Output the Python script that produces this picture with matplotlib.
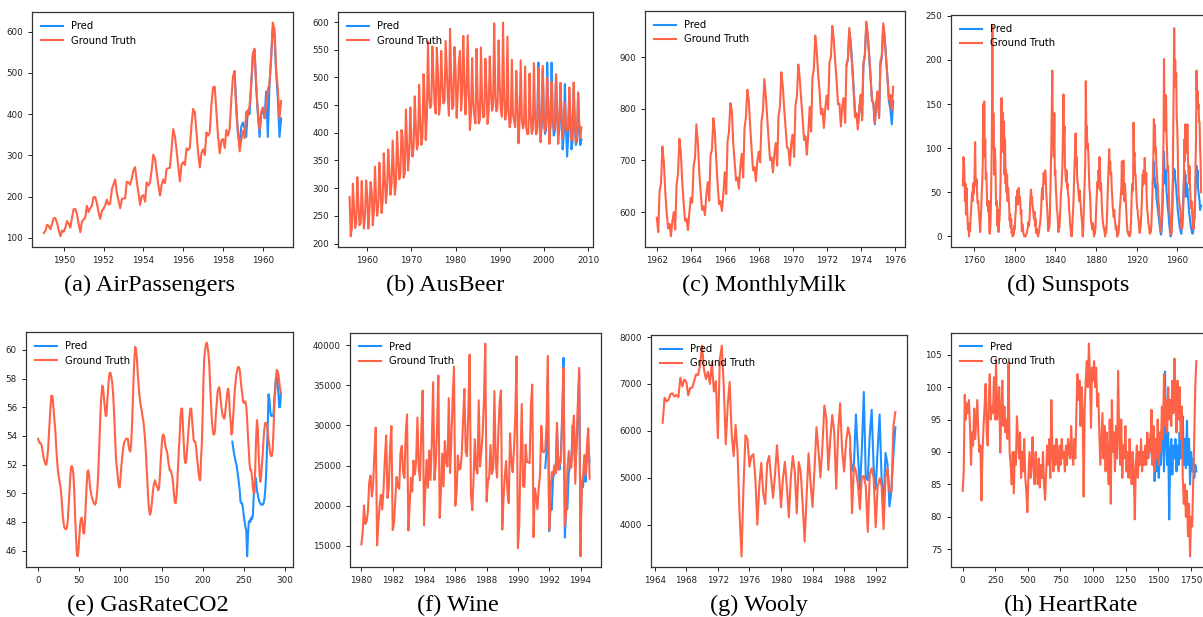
import numpy as np
import pandas as pd
import matplotlib
matplotlib.use("Agg")
import matplotlib.pyplot as plt
import matplotlib.dates as mdates
from matplotlib.ticker import MultipleLocator

# ---------------- DATA ----------------
air_truth = [112,118,132,129,121,135,148,148,136,119,104,118,
             115,126,141,135,125,149,170,170,158,133,114,140,
             145,150,178,163,172,178,199,199,184,162,146,166,
             171,180,193,181,183,218,230,242,209,191,172,194,
             196,196,236,235,229,243,264,272,237,211,180,201,
             204,188,235,227,234,264,302,293,259,229,203,229,
             242,233,267,269,270,315,364,347,312,274,237,278,
             284,277,317,313,318,374,413,405,355,306,271,306,
             315,301,356,348,355,422,465,467,404,347,305,336,
             340,318,362,348,363,435,491,505,404,359,310,337,
             360,342,406,396,420,472,548,559,463,407,362,405,
             417,391,419,461,472,535,622,606,508,461,390,432]
air_pred = [500,420,350,335,370,
            380,365,345,410,400,470,540,555,470,400,345,400,
            410,390,455,345,470,540,610,590,500,440,345,390]

beer_truth = [284,213,227,308,262,228,236,320,272,233,237,313,261,227,250,314,
              286,227,260,311,295,233,257,339,279,250,270,346,294,255,278,363,
              313,273,300,370,331,288,306,386,335,288,308,402,353,316,325,405,
              393,319,327,442,383,332,361,446,387,357,374,466,410,370,379,487,
              419,378,393,506,458,387,427,565,465,445,450,556,500,452,435,554,
              510,433,453,548,486,453,457,566,515,464,431,588,503,443,448,555,
              513,427,473,526,548,440,469,575,493,433,480,576,475,405,435,535,
              453,430,417,552,464,417,423,554,459,428,429,534,481,416,440,538,
              474,440,447,598,467,439,446,567,485,441,429,599,464,424,436,574,
              443,410,420,532,433,421,410,512,449,381,423,531,426,408,416,520,
              409,398,398,507,432,398,406,526,428,397,403,517,435,383,424,521,
              421,402,414,500,451,380,416,492,428,408,406,506,435,380,421,490,
              435,390,412,454,416,403,408,482,438,386,405,491,427,383,394,473,
              420,390,410]
beer_pred = [400,410,527,
             440,395,410,515, 430,398,405,527, 440,400,410,527,
             425,395,405,505, 430,395,405,490, 425,370,395,488,
             410,357,390,470, 420,370,385,475, 410,378,385,470,
             405,378,388]

milk_truth = [589,561,640,656,727,697,640,599,568,577,553,582,
              600,566,653,673,742,716,660,617,583,587,565,598,
              628,618,688,705,770,736,678,639,604,611,594,634,
              658,622,709,722,782,756,702,653,615,621,602,635,
              677,635,736,755,811,798,735,697,661,667,645,688,
              713,667,762,784,837,817,767,722,681,687,660,698,
              717,696,775,796,858,826,783,740,701,706,677,711,
              734,690,785,805,871,845,801,764,725,723,690,734,
              750,707,807,824,886,859,819,783,740,747,711,751,
              804,756,860,878,942,913,869,834,790,800,763,800,
              826,799,890,900,961,935,894,855,809,810,766,805,
              821,773,883,898,957,924,881,837,784,791,760,802,
              828,778,889,902,969,947,908,867,815,812,773,813,
              834,782,892,903,966,937,896,858,817,827,797,843]
milk_pred = [885,895,950,930,890,845,795,790,770,795,
             825,785,885,905,960,945,905,860,820,810,770,805,
             830,785,885,900,960,940,900,860,815,800,770,815]

# semi-annual readings, 1749-1983
sun_truth = [58,90, 85,72, 40,60, 25,55, 35,22, 8,15, 0,14, 6,20, 28,38, 50,40,
             60,48, 55,72, 107,68, 58,65, 48,38, 40,30, 24,15, 5,18, 30,48, 60,80,
             150,95, 153,90, 110,65, 72,55, 35,40, 28,40, 5,3, 10,30, 75,110, 239,100,
             140,105, 70,100, 85,45, 35,40, 12,30, 5,15, 18,35, 60,110, 157,105, 130,140,
             95,130, 70,110, 60,75, 50,70, 40,55, 45,35, 18,25, 10,20, 4,8, 0,6,
             2,12, 8,20, 28,45, 38,52, 36,50, 55,40, 45,38, 25,30, 6,14, 10,4,
             2,0, 0,0, 1,3, 4,8, 10,16, 12,18, 30,45, 53,40, 45,35, 32,25,
             20,28, 12,20, 4,9, 3,5, 0,3, 6,12, 14,22, 30,45, 55,42, 58,72,
             65,60, 75,68, 50,42, 30,22, 6,12, 10,18, 45,70, 100,140, 188,120, 110,90,
             140,70, 75,55, 45,30, 28,18, 5,12, 10,20, 35,48, 55,68, 80,120, 161,110,
             125,80, 70,62, 75,55, 60,48, 45,32, 25,15, 8,4, 0,8, 18,30, 45,65,
             85,100, 117,80, 90,65, 62,55, 48,40, 52,42, 35,25, 20,12, 0,10, 30,48,
             65,85, 176,120, 125,100, 105,95, 75,55, 50,38, 20,14, 12,8, 15,10, 0,5,
             3,10, 25,40, 50,62, 55,75, 65,90, 75,52, 60,45, 30,20, 15,10, 8,5,
             0,10, 4,12, 30,45, 65,85, 99,75, 85,70, 72,55, 45,35, 28,22, 30,20,
             15,8, 12,6, 0,4, 3,8, 18,32, 38,48, 55,85, 60,48, 86,50, 40,60,
             48,38, 22,14, 6,4, 2,5, 0,2, 5,15, 40,55, 60,52, 129,90, 95,70,
             70,55, 42,32, 30,22, 18,10, 4,8, 12,22, 35,55, 70,58, 75,62, 89,70,
             60,72, 40,30, 25,16, 12,9, 3,8, 5,12, 28,45, 70,90, 133,105, 127,95,
             100,80, 70,62, 55,40, 35,25, 18,12, 5,15, 22,45, 80,110, 201,140, 120,150,
             160,115, 95,75, 80,60, 35,28, 18,10, 2,6, 20,55, 110,170, 236,180, 200,170,
             185,135, 125,100, 60,45, 40,35, 30,25, 12,8, 10,20, 35,60, 110,85, 127,95,
             120,95, 127,90, 75,60, 80,60, 45,32, 40,30, 18,12, 8,16, 20,35, 80,110,
             188,150, 165,145, 150,130, 130,100, 85,50]
sun_pred = [60,75, 85,70, 65,55, 60,45, 40,35, 30,25, 20,15, 10,5, 2,5, 15,35,
            55,75, 96,70, 60,75, 65,50, 45,35, 30,25, 15,10, 5,0, 2,10, 25,50,
            65,77, 70,75, 65,60, 55,45, 40,30, 25,20, 15,10, 8,5, 3,8, 15,30,
            45,60, 75,55, 70,45, 60,50, 55,45, 40,30, 25,20, 15,10, 8,5, 3,5,
            8,15, 25,40, 55,70, 80,65, 75,55, 50,45, 40,30, 35,35]

gas_truth = [53.8,53.6,53.5,53.5,53.4,53.1,52.7,52.4,52.2,52.0,
             52.0,52.4,53.0,54.0,54.9,56.0,56.8,56.8,56.4,55.7,
             55.0,54.3,53.2,52.3,51.6,51.2,50.8,50.5,50.0,49.2,
             48.4,47.9,47.6,47.5,47.5,47.6,48.1,49.0,50.0,51.1,
             51.8,51.9,51.7,51.2,50.0,48.3,47.0,45.8,45.6,46.0,
             46.9,47.8,48.2,48.3,47.9,47.2,47.2,48.1,49.4,50.6,
             51.5,51.6,51.2,50.5,50.1,49.8,49.6,49.4,49.3,49.2,
             49.3,49.7,50.3,51.3,52.8,54.4,56.0,56.9,57.5,57.3,
             56.6,56.0,55.4,55.4,56.4,57.2,58.0,58.4,58.4,58.1,
             57.7,57.0,56.0,54.7,53.2,52.1,51.6,51.0,50.5,50.4,
             51.0,51.8,52.4,53.0,53.4,53.6,53.7,53.8,53.8,53.8,
             53.3,53.0,52.9,53.4,54.6,56.4,58.0,59.4,60.2,60.0,
             59.4,58.4,57.6,56.9,56.4,56.0,55.7,55.3,55.0,54.4,
             53.7,52.8,51.6,50.6,49.4,48.8,48.5,48.7,49.2,49.8,
             50.4,50.7,50.9,50.7,50.5,50.4,50.2,50.4,51.2,52.3,
             53.2,53.9,54.1,54.0,53.6,53.2,53.0,52.8,52.3,51.9,
             51.6,51.6,51.4,51.2,50.7,50.0,49.4,49.3,49.7,50.6,
             51.8,53.0,54.0,55.3,55.9,55.9,54.6,53.5,52.4,52.1,
             52.3,53.0,53.8,54.6,55.4,55.9,55.9,55.2,54.4,53.7,
             53.6,53.6,53.2,52.5,52.0,51.4,51.0,50.9,52.4,53.5,
             55.6,58.0,59.5,60.0,60.4,60.5,60.2,59.7,59.0,57.6,
             56.4,55.2,54.5,54.1,54.1,54.4,55.5,56.2,57.0,57.3,
             57.4,57.0,56.4,55.9,55.5,55.3,55.2,55.4,56.0,56.5,
             57.1,57.3,56.8,55.6,55.0,54.1,54.3,55.3,56.4,57.2,
             57.8,58.3,58.6,58.8,58.8,58.6,58.0,57.4,57.0,56.4,
             56.3,56.4,56.4,56.0,55.2,54.0,53.0,52.0,51.6,51.6,
             51.1,50.4,50.0,50.0,52.0,54.0,55.1,54.5,52.8,51.4,
             50.8,51.2,52.0,52.8,53.8,54.5,54.9,54.9,54.8,54.4,
             53.7,53.3,52.8,52.6,52.6,53.0,54.3,56.0,57.0,58.0,
             58.6,58.5,58.3,57.8,57.3,57.0]
gas_pred = [53.6,53.2,52.8,52.5,52.2,52.0,51.6,51.2,50.7,50.2,
            49.4,49.3,49.3,48.9,48.4,48.0,47.6,47.4,45.6,47.0,
            48.0,48.1,48.0,48.3,48.2,48.5,49.8,50.6,51.1,50.8,
            50.2,49.9,49.6,49.4,49.3,49.2,49.2,49.2,49.3,49.6,
            50.2,51.2,52.8,54.6,56.9,56.6,55.8,55.4,55.4,55.4,
            55.5,56.5,57.4,58.0,58.1,57.6,57.0,56.0,56.0,57.0]

wine_truth = [15136,16733,20016,17708,18019,19227,22893,23739,21133,22591,26786,29740,
              15028,17977,20008,21354,19498,22125,25817,28779,20960,22254,27392,29945,
              16933,17892,20533,23569,22417,22084,26580,27454,24081,23451,28991,31386,
              16896,20045,23471,21747,25621,23859,25500,30998,24475,23145,29701,34365,
              17556,22077,25702,22214,26886,23191,27831,35406,23195,25110,30009,36242,
              18450,21845,26488,22394,28057,25451,24872,33424,24052,28449,33533,37351,
              19969,21701,26249,24493,24603,26485,30723,34569,26689,26157,32064,38870,
              21337,19419,23166,28286,24570,24001,33151,24878,26804,28967,33311,40226,
              20504,23060,23562,27562,23940,24584,34303,25517,23494,29095,32903,34379,
              16991,21109,23740,25552,21752,20294,29009,25500,24166,26960,31222,38641,
              14672,17543,25453,32683,22449,22316,27595,25451,25421,25288,32568,35110,
              16052,22146,21198,19543,22084,23816,29961,26773,26635,26972,30207,38687,
              16974,21697,24179,23757,25013,24019,30345,24488,25156,25650,30923,37240,
              17466,19463,24352,26805,25236,24735,29356,31234,22724,28496,32857,37198,
              13652,22784,23565,26323,23779,27549,29660,23356]
wine_pred = [24700,26750,36000,
             16800,19700,19500,23500,24000,24500,29500,25000,24500,26500,31500,38460,
             16000,19500,19600,24000,25000,25500,30000,28000,24500,27500,31000,36500,
             16500,23000,22300,25000,23000,26500,27500,25500]

wooly_truth = [6172,6709,6633,6660, 6786,6800,6730,6765, 6720,7133,6946,7095,
               7047,6757,6915,6921, 7064,7206,7190,7402, 7819,7300,7105,7259,
               7001,7475,6840,7061, 5845,7529,7819,6943, 5714,6556,7045,5947,
               5463,6127,5540,4235, 3324,4793,5906,5834, 5240,5458,5505,5002,
               3999,4826,5318,4681, 4442,5305,5466,4995, 4573,5081,5696,5079,
               4373,4986,5341,4800, 4161,5007,5464,5127, 4240,5338,5129,4437,
               3642,4602,5524,4895, 4380,5186,6080,5588, 5009,5663,6540,6262,
               5169,5819,6339,5981, 4766,5976,6590,5590, 5135,5762,6077,5882,
               4247,5264,5146,4868, 4329,5029,5036,4821, 3848,5067,5201,4992,
               3946,4802,4988,4834, 3905,5016,5199,4699, 4715,6100,6400]
wooly_pred = [5600,
              5150,5300,6350,5500, 4750,5600,6830,5000, 4950,5900,6450,5200,
              4750,5600,6350,5000, 4400,5530,5300,4390, 4750,5500,6080]

# heart rate, one reading every 8 samples (0..1792)
heart_truth = [84,87,98.8,95,97.5,96,98,94,88,93,91,96.7,92,95,98,93,90,91,82.5,90,94,97,100.5,93,91,
               98,102,95,97,96,101.5,95,104.3,95,97,100,89.9,96,101,94,97,93,95,92,103.8,90,88,85,90,83.6,
               90,88,95.5,92,89,93,86,90,87,92,86,84,80.7,86,90,86,88,92.3,87,85,90,87,85,89,84.5,
               88,86,90,85,82.6,87,91,88,92,86,98,90,87,91,88,92,89,87,91,88,92,89,90,87,91,
               88,92,90,89,94,90,88,92,89,96,102,98,101,94,100,96,83.1,97,101,104,100,106.7,102,93.7,103,
               101,104,100,103,97,99,93,88,92,96,89,94,87,93,90,85,95,82,98,90,93,87,94,89,102.5,
               93,88,95,86,91,89,94,87,90,86,92,88,85,90,87,79.6,88,91,86,90,88,92,87,90,88,
               91,88,93,89,92,90,96.5,88,94,87,92,89,95,88,93,90,97,92,102,94,98,93,100,95,98,
               94,101,96,104.4,98,93,101,95,100,92,97,86,82,85,80,84,77,82,73.9,80,78.5,85,92,100,104]
heart_pred = [92.7,90,88,91,85.5,89,87,91,86,90,88,92,95,87,102.4,92,88,93,79.6,90,
              92,86.5,91,89,92,87,91,88,93,89,91,95.5,88,92,87.5,94.8,88,92,85,90,
              87,89,86,88,87]

# ---------------- STYLE ----------------
W, H = 1203, 617
fig = plt.figure(figsize=(W / 100, H / 100), dpi=100)
BLUE = "#1E90FF"
RED = "#FF6347"
SPINE = "#333333"

def add_ax(l, t, r, b):
    return fig.add_axes([l / W, 1 - b / H, (r - l) / W, (b - t) / H])

def style(ax):
    for s in ax.spines.values():
        s.set_color(SPINE)
        s.set_linewidth(0.9)
    ax.tick_params(labelsize=6.3, colors="#222222", length=3, width=0.7)
    ax.legend(loc="upper left", frameon=False, fontsize=7.2, handlelength=2.2,
              labelspacing=0.45, borderaxespad=0.5)

def draw(ax, x, truth, pred):
    xp = x[-len(pred):]
    ax.plot(xp, pred, color=BLUE, lw=1.5, label="Pred")
    ax.plot(x, truth, color=RED, lw=1.5, label="Ground Truth")

def date_axis(ax, years):
    ax.xaxis.set_major_locator(mdates.YearLocator(years))
    ax.xaxis.set_major_formatter(mdates.DateFormatter("%Y"))

# (a) AirPassengers
ax = add_ax(32, 12, 293, 247)
x = pd.date_range("1949-01-01", periods=len(air_truth), freq="MS")
draw(ax, x, air_truth, air_pred)
date_axis(ax, 2); ax.yaxis.set_major_locator(MultipleLocator(100)); style(ax)

# (b) AusBeer
ax = add_ax(338, 12, 593, 247)
x = pd.date_range("1956-01-01", periods=len(beer_truth), freq="QS")
draw(ax, x, beer_truth, beer_pred)
date_axis(ax, 10); ax.yaxis.set_major_locator(MultipleLocator(50)); style(ax)

# (c) MonthlyMilk
ax = add_ax(645, 11, 905, 247)
x = pd.date_range("1962-01-01", periods=len(milk_truth), freq="MS")
draw(ax, x, milk_truth, milk_pred)
date_axis(ax, 2); ax.yaxis.set_major_locator(MultipleLocator(100)); style(ax)

# (d) Sunspots
ax = add_ax(951, 15, 1213, 247)
x = pd.date_range("1749-01-01", periods=len(sun_truth), freq="6MS")
draw(ax, x, sun_truth, sun_pred)
date_axis(ax, 40); ax.yaxis.set_major_locator(MultipleLocator(50)); style(ax)

# (e) GasRateCO2
ax = add_ax(26, 332, 293, 567)
x = np.arange(len(gas_truth))
draw(ax, x, gas_truth, gas_pred)
ax.xaxis.set_major_locator(MultipleLocator(50)); ax.yaxis.set_major_locator(MultipleLocator(2)); style(ax)

# (f) Wine
ax = add_ax(350, 333, 601, 567)
x = pd.date_range("1980-01-01", periods=len(wine_truth), freq="MS")
draw(ax, x, wine_truth, wine_pred)
date_axis(ax, 2); ax.yaxis.set_major_locator(MultipleLocator(5000)); style(ax)

# (g) Wooly
ax = add_ax(651, 335, 907, 567)
x = pd.date_range("1965-01-01", periods=len(wooly_truth), freq="QS")
draw(ax, x, wooly_truth, wooly_pred)
date_axis(ax, 4); ax.yaxis.set_major_locator(MultipleLocator(1000)); style(ax)

# (h) HeartRate
ax = add_ax(951, 333, 1208, 567)
x = np.arange(0, 8 * len(heart_truth), 8)
draw(ax, x, heart_truth, heart_pred)
ax.xaxis.set_major_locator(MultipleLocator(250)); ax.yaxis.set_major_locator(MultipleLocator(5)); style(ax)

captions = ["(a) AirPassengers", "(b) AusBeer", "(c) MonthlyMilk", "(d) Sunspots",
            "(e) GasRateCO2", "(f) Wine", "(g) Wooly", "(h) HeartRate"]
cap_x = [150, 445, 764, 1068, 148, 458, 759, 1071]
cap_y = [285, 285, 285, 285, 605, 605, 605, 605]
for c, cx, cy in zip(captions, cap_x, cap_y):
    fig.text(cx / W, 1 - cy / H, c, ha="center", va="center",
             family="Liberation Serif", fontsize=17.5, color="black")

fig.savefig("out.png", dpi=100)
